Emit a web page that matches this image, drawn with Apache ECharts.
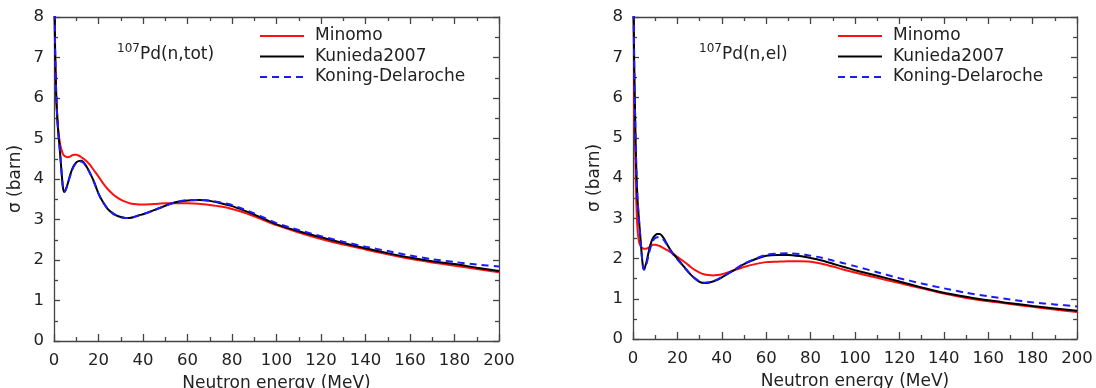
<!DOCTYPE html>
<html><head><meta charset="utf-8">
<script src="https://cdn.jsdelivr.net/npm/echarts@6/dist/echarts.min.js"></script>
<style>html,body{margin:0;padding:0;background:#fff}#c{width:1096px;height:388px}</style>
</head><body><div id="c"></div>
<script>
// ---- data ----
const seriesNames = ['Minomo', 'Kunieda2007', 'Koning-Delaroche'];
const xTicks = [0, 20, 40, 60, 80, 100, 120, 140, 160, 180, 200];
const yTicks = [0, 1, 2, 3, 4, 5, 6, 7, 8];
const panelTitles = [['107', 'Pd(n,tot)'], ['107', 'Pd(n,el)']];
const xLabel = 'Neutron energy (MeV)';
const yLabel = 'σ (barn)';

const energy = [0.2,0.5,1,1.5,2,2.5,3,3.5,4,4.5,5,6,7,8,9,10,11,12,13,14,15,16,18,20,22,24,26,28,30,32,34,36,38,40,45,50,55,60,65,70,75,80,85,90,95,100,110,120,130,140,150,160,170,180,190,200];

// total cross section (left panel)
const totMinomo = [9.0,7.0,6.0,5.5,5.15,4.95,4.8,4.7,4.62,4.58,4.56,4.54,4.55,4.58,4.6,4.6,4.58,4.55,4.51,4.47,4.42,4.36,4.21,4.06,3.9,3.76,3.65,3.56,3.49,3.44,3.40,3.38,3.37,3.37,3.38,3.40,3.40,3.40,3.39,3.36,3.32,3.26,3.18,3.08,2.97,2.86,2.68,2.52,2.38,2.26,2.14,2.03,1.94,1.86,1.78,1.70];
const totKunieda = [9.0,7.2,6.1,5.5,5.1,4.8,4.45,4.1,3.8,3.68,3.70,3.85,4.05,4.22,4.34,4.41,4.44,4.45,4.43,4.36,4.27,4.17,3.93,3.64,3.43,3.27,3.17,3.10,3.06,3.04,3.04,3.06,3.10,3.13,3.23,3.34,3.43,3.47,3.48,3.46,3.40,3.33,3.23,3.12,3.00,2.88,2.71,2.56,2.42,2.29,2.17,2.06,1.97,1.90,1.81,1.73];
const totKoning = [9.0,7.2,6.1,5.5,5.1,4.8,4.45,4.1,3.8,3.68,3.70,3.84,4.03,4.2,4.32,4.40,4.43,4.43,4.41,4.35,4.26,4.16,3.92,3.64,3.43,3.27,3.17,3.10,3.06,3.04,3.04,3.06,3.10,3.13,3.23,3.34,3.43,3.48,3.48,3.47,3.42,3.36,3.26,3.15,3.03,2.91,2.74,2.59,2.45,2.33,2.22,2.11,2.02,1.95,1.89,1.84];

// elastic cross section (right panel)
const elMinomo = [9.0,6.5,4.6,3.4,2.75,2.48,2.36,2.3,2.27,2.25,2.24,2.24,2.27,2.31,2.34,2.34,2.33,2.31,2.28,2.25,2.22,2.19,2.12,2.04,1.96,1.88,1.79,1.71,1.65,1.61,1.59,1.58,1.59,1.61,1.70,1.79,1.86,1.91,1.92,1.93,1.93,1.92,1.87,1.80,1.72,1.65,1.52,1.39,1.26,1.13,1.02,0.94,0.87,0.80,0.73,0.67];
const elKunieda = [9.0,7.0,5.4,4.2,3.5,3.1,2.75,2.4,2.05,1.8,1.73,1.9,2.15,2.37,2.51,2.58,2.61,2.61,2.57,2.49,2.39,2.29,2.12,2.0,1.86,1.73,1.60,1.50,1.42,1.39,1.40,1.43,1.47,1.53,1.69,1.86,1.98,2.07,2.09,2.09,2.06,2.01,1.95,1.87,1.79,1.71,1.57,1.43,1.28,1.15,1.05,0.96,0.89,0.82,0.76,0.70];
const elKoning = [9.0,7.0,5.4,4.2,3.5,3.1,2.75,2.4,2.05,1.8,1.72,1.85,2.08,2.3,2.44,2.51,2.53,2.53,2.51,2.45,2.37,2.28,2.1,1.98,1.85,1.72,1.60,1.50,1.43,1.40,1.41,1.44,1.48,1.54,1.70,1.87,1.99,2.09,2.12,2.13,2.11,2.07,2.02,1.95,1.88,1.81,1.66,1.51,1.38,1.26,1.15,1.06,0.98,0.91,0.86,0.81];

const panelData = [[totMinomo, totKunieda, totKoning], [elMinomo, elKunieda, elKoning]];

// ---- chart ----
const colors = ['#ff1010', '#000000', '#1a1aff'];
const font = 'DejaVu Sans';
const grids = [
  {left: 54, right: 597, top: 17, bottom: 47, containLabel: false, outerBoundsMode: 'none'},
  {left: 633, right: 19, top: 17, bottom: 49, containLabel: false, outerBoundsMode: 'none'}
];
const legendLeft = [259, 837];
const titleLeft = [117, 699];

function xAx(gi, pos, showLab) {
  return {
    type: 'value', gridIndex: gi, position: pos, min: xTicks[0], max: xTicks[xTicks.length - 1], interval: 20,
    name: pos === 'bottom' ? xLabel : '', nameLocation: 'middle', nameGap: 34,
    nameTextStyle: {fontFamily: font, fontSize: 17, color: '#222'},
    axisLine: {show: true, onZero: false, lineStyle: {color: '#444', width: 1.3}},
    axisTick: {show: true, inside: true, length: 7, lineStyle: {color: '#444', width: 1.3}},
    minorTick: {show: true, splitNumber: 2, length: 4, lineStyle: {color: '#444', width: 1.3}},
    axisLabel: {show: showLab, margin: 11, fontFamily: font, fontSize: 16.5, color: '#222'},
    splitLine: {show: false}
  };
}
function yAx(gi, pos, showLab) {
  return {
    type: 'value', gridIndex: gi, position: pos, min: yTicks[0], max: yTicks[yTicks.length - 1], interval: 1,
    name: pos === 'left' ? yLabel : '', nameLocation: 'middle', nameGap: 30, nameRotate: 90,
    nameTextStyle: {fontFamily: font, fontSize: 17, color: '#222'},
    axisLine: {show: true, onZero: false, lineStyle: {color: '#444', width: 1.3}},
    axisTick: {show: true, inside: true, length: 6, lineStyle: {color: '#444', width: 1.3}},
    minorTick: {show: true, splitNumber: 2, length: 4, lineStyle: {color: '#444', width: 1.3}},
    axisLabel: {show: showLab, margin: 10, fontFamily: font, fontSize: 16.5, color: '#222'},
    splitLine: {show: false}
  };
}

const xAxes = [], yAxes = [], series = [], legends = [], titles = [];
for (let g = 0; g < 2; g++) {
  xAxes.push(xAx(g, 'bottom', true));
  xAxes.push(xAx(g, 'top', false));
  yAxes.push(yAx(g, 'left', true));
  yAxes.push(yAx(g, 'right', false));
  for (let s = 0; s < 3; s++) {
    series.push({
      type: 'line', name: seriesNames[s], xAxisIndex: g * 2, yAxisIndex: g * 2,
      data: energy.map((e, i) => [e, panelData[g][s][i]]),
      symbol: 'none', smooth: 0.25, clip: true, z: 2 + s,
      lineStyle: {color: colors[s], width: 2, type: s === 2 ? [7, 5] : 'solid'},
      itemStyle: {color: colors[s]}
    });
  }
  legends.push({
    left: legendLeft[g], top: 26, padding: 0, orient: 'vertical', itemWidth: 44, itemHeight: 10, itemGap: 0.5,
    data: seriesNames, selectedMode: false,
    itemStyle: {opacity: 0, borderWidth: 0},
    textStyle: {fontFamily: font, fontSize: 17, color: '#222', lineHeight: 20, padding: [0, 0, 0, 6]}
  });
  titles.push({
    left: titleLeft[g], top: 43, padding: 0,
    text: '{sup|' + panelTitles[g][0] + '}{main|' + panelTitles[g][1] + '}',
    textStyle: {
      fontWeight: 'normal',
      rich: {
        sup: {fontFamily: font, fontSize: 12, fontWeight: 'normal', color: '#222', lineHeight: 12, verticalAlign: 'top'},
        main: {fontFamily: font, fontSize: 17, fontWeight: 'normal', color: '#222', lineHeight: 24}
      }
    }
  });
}

const chart = echarts.init(document.getElementById('c'), null, {renderer: 'canvas'});
chart.setOption({
  animation: false,
  backgroundColor: '#fff',
  title: titles,
  legend: legends,
  grid: grids,
  xAxis: xAxes,
  yAxis: yAxes,
  series: series
});
</script></body></html>
